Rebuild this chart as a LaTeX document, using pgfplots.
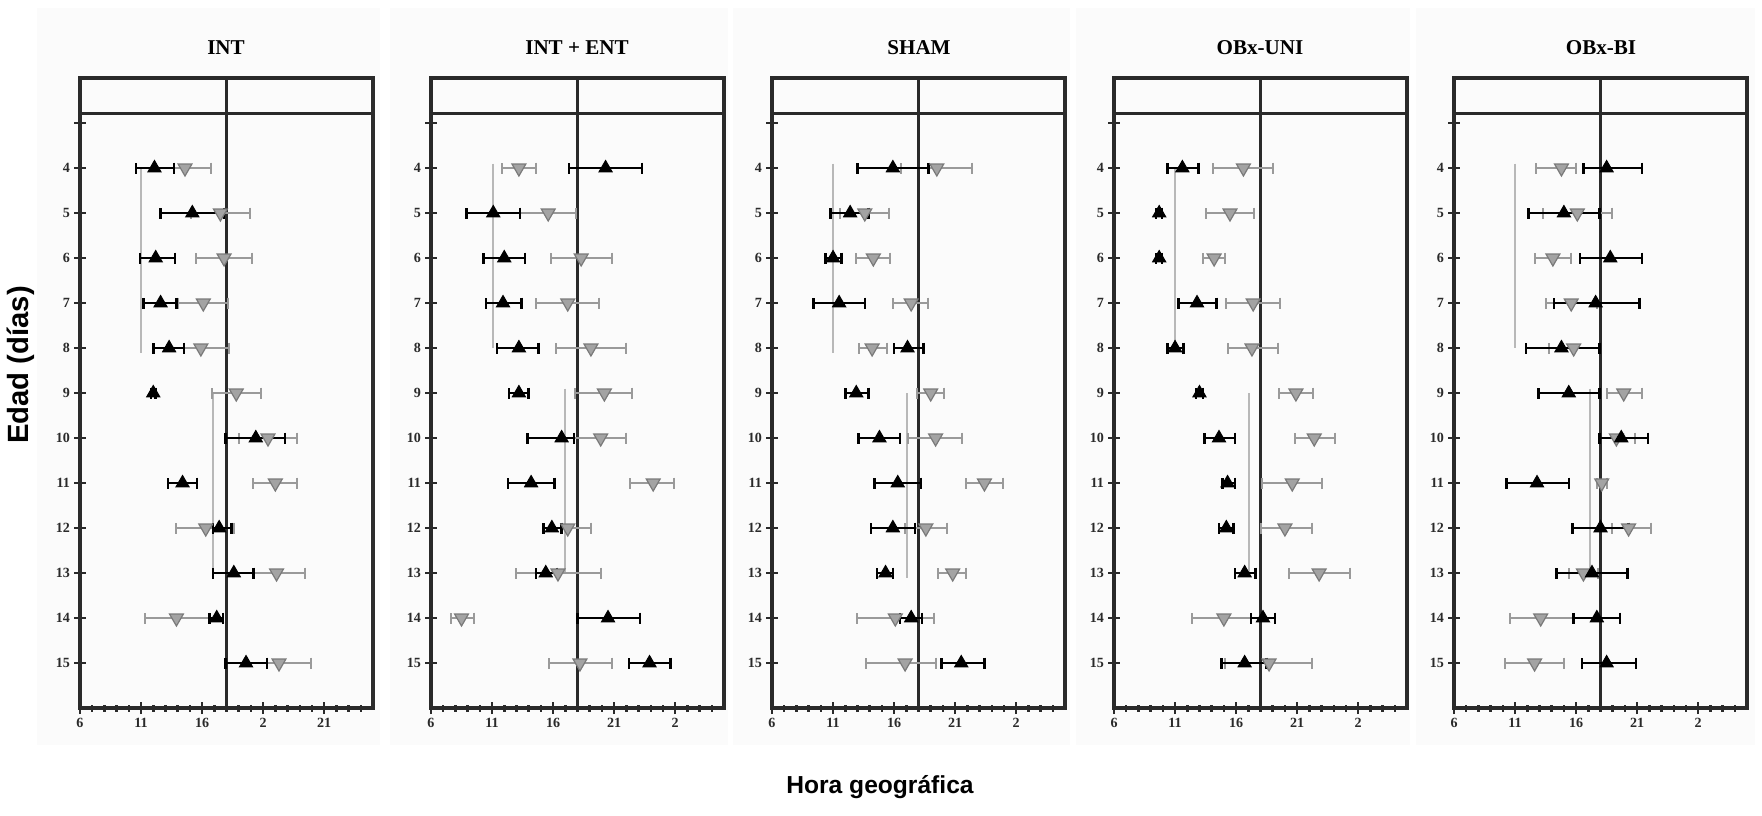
\documentclass[border=0pt]{standalone}
\usepackage{pgfplots}
\pgfplotsset{compat=1.18}
\usepackage{fontspec}
\setmainfont{Liberation Serif}
\newfontfamily\sansb{Liberation Sans}
\newlength\px
\setlength\px{0.3mm}
\definecolor{frame}{HTML}{2A2A2A}
\definecolor{gfill}{HTML}{A3A3A3}
\definecolor{gedge}{HTML}{7A7A7A}
\definecolor{gbar}{HTML}{9A9A9A}
\definecolor{vline}{HTML}{B8B8B8}
\newcommand\tickfont{\fontsize{12}{12}\selectfont\bfseries}
\newcommand\titlefont{\fontsize{18}{18}\selectfont\bfseries}
\pgfplotsset{
  panel/.style={
    scale only axis, width=293\px, height=630\px, anchor=south west,
    xmin=6, xmax=30, ymin=2, ymax=16, y dir=reverse,
    xtick={6,11,16,21,26},
    minor xtick={7,8,9,10,12,13,14,15,17,18,19,20,22,23,24,25,27,28,29},
    ytick={3,...,15}, yticklabels={,4,5,6,7,8,9,10,11,12,13,14,15},
    tick pos=left, tick align=center,
    major tick length=12\px, minor tick length=7\px,
    axis line style={line width=3.2\px, draw=frame},
    every tick/.style={line width=2.5\px, frame},
    tick label style={font=\tickfont, text=frame},
    clip=false,
  },
  blk/.style={only marks, mark=triangle*, mark size=7.5\px, black,
    mark options={fill=black, draw=black, line width=1\px},
    error bars/.cd, x dir=both, x explicit,
    error bar style={line width=2.5\px, black},
    error mark options={black, mark size=5.5\px, line width=2.5\px, rotate=90}},
  gry/.style={only marks, mark=triangle*, mark size=8\px, gedge,
    mark options={rotate=180, fill=gfill, draw=gedge, line width=1.2\px},
    error bars/.cd, x dir=both, x explicit,
    error bar style={line width=2\px, gbar},
    error mark options={gbar, mark size=5.5\px, line width=2\px, rotate=90}},
  vl/.style={line width=2\px, vline, no marks},
}
\newcommand\decor{%
  \draw[line width=3.2\px, frame] (axis cs:18,2) -- (axis cs:18,16);
  \draw[line width=3.2\px, frame] (axis cs:6,2.78) -- (axis cs:30,2.78);
}
\begin{document}
\begin{tikzpicture}
\path (0,0) rectangle (1762\px,-815\px);
\foreach \a/\b in {37/380, 390/728, 733/1070, 1076/1410, 1416/1755}
  \fill[black!1.5] (\a\px,-8\px) rectangle (\b\px,-745\px);

% ---------------- Panel 1: INT
\begin{axis}[panel, at={(80\px,-708\px)}, xticklabels={6,11,16,2,21}]
\decor
\addplot[vl] coordinates {(11.0,4) (11.0,8.1)};
\addplot[vl] coordinates {(16.9,9) (16.9,13)};
\addplot[gry] table[x=x, y=y, x error minus=em, x error plus=ep] {
y x em ep
4 14.6 0.9 2.1
5 17.5 2.4 2.4
6 17.8 2.3 2.3
7 16.1 2.1 2.0
8 15.9 1.4 2.3
9 18.8 2.0 2.0
10 21.4 2.4 2.4
11 22.0 1.8 1.8
12 16.3 2.4 2.3
13 22.1 1.9 2.3
14 13.9 2.6 2.7
15 22.3 1.0 2.6
};
\addplot[blk] table[x=x, y=y, x error minus=em, x error plus=ep] {
y x em ep
4 12.1 1.5 1.6
5 15.2 2.6 2.6
6 12.2 1.3 1.6
7 12.6 1.4 1.3
8 13.3 1.3 1.2
9 12.0 0.2 0.2
10 20.4 2.5 2.4
11 14.4 1.2 1.2
12 17.4 0.5 1.0
13 18.6 1.7 1.6
14 17.2 0.6 0.5
15 19.6 1.7 1.7
};
\end{axis}
\node[font=\titlefont] at (226\px,-48\px) {INT};

% ---------------- Panel 2: INT + ENT
\begin{axis}[panel, at={(431\px,-708\px)}, xticklabels={6,11,16,21,2}]
\decor
\addplot[vl] coordinates {(11.1,3.9) (11.1,8)};
\addplot[vl] coordinates {(17.0,8.9) (17.0,13)};
\addplot[gry] table[x=x, y=y, x error minus=em, x error plus=ep] {
y x em ep
4 13.2 1.4 1.4
5 15.6 2.3 2.3
6 18.3 2.5 2.5
7 17.2 2.6 2.6
8 19.1 2.9 2.9
9 20.2 2.4 2.3
10 19.9 2.2 2.1
11 24.2 1.9 1.7
12 17.2 0.5 1.9
13 16.4 3.4 3.5
14 8.5 0.9 1.0
15 18.2 2.5 2.6
};
\addplot[blk] table[x=x, y=y, x error minus=em, x error plus=ep] {
y x em ep
4 20.3 3.0 3.0
5 11.1 2.2 2.2
6 12.0 1.7 1.7
7 11.9 1.4 1.5
8 13.2 1.8 1.6
9 13.2 0.8 0.8
10 16.7 2.8 1.0
11 14.2 1.9 1.9
12 15.9 0.7 0.8
13 15.4 0.8 0.9
14 20.5 2.5 2.6
15 23.9 1.7 1.7
};
\end{axis}
\node[font=\titlefont] at (577\px,-48\px) {INT + ENT};

% ---------------- Panel 3: SHAM
\begin{axis}[panel, at={(772\px,-708\px)}, xticklabels={6,11,16,21,2}]
\decor
\addplot[vl] coordinates {(11.0,3.9) (11.0,8.1)};
\addplot[vl] coordinates {(17.05,9) (17.05,13.1)};
\addplot[gry] table[x=x, y=y, x error minus=em, x error plus=ep] {
y x em ep
4 19.5 2.9 2.9
5 13.6 2.0 2.0
6 14.3 1.4 1.4
7 17.4 1.5 1.4
8 14.2 1.1 1.2
9 19.0 1.1 1.1
10 19.4 2.3 2.2
11 23.4 1.5 1.5
12 18.6 1.7 1.7
13 20.8 1.2 1.1
14 16.1 3.1 3.2
15 16.9 3.2 2.5
};
\addplot[blk] table[x=x, y=y, x error minus=em, x error plus=ep] {
y x em ep
4 15.9 2.9 2.9
5 12.4 1.6 1.5
6 11.0 0.6 0.7
7 11.5 2.1 2.1
8 17.1 1.1 1.3
9 12.9 0.9 1.0
10 14.8 1.7 1.7
11 16.3 1.9 1.9
12 15.9 1.8 1.8
13 15.3 0.7 0.6
14 17.4 0.9 0.9
15 21.5 1.6 1.9
};
\end{axis}
\node[font=\titlefont] at (919\px,-48\px) {SHAM};

% ---------------- Panel 4: OBx-UNI
\begin{axis}[panel, at={(1114\px,-708\px)}, xticklabels={6,11,16,21,2}]
\decor
\addplot[vl] coordinates {(11.0,4) (11.0,8)};
\addplot[vl] coordinates {(17.05,9) (17.05,13)};
\addplot[gry] table[x=x, y=y, x error minus=em, x error plus=ep] {
y x em ep
4 16.6 2.5 2.4
5 15.5 2.0 2.0
6 14.2 0.9 0.9
7 17.4 2.2 2.2
8 17.3 2.0 2.1
9 20.9 1.4 1.4
10 22.4 1.6 1.7
11 20.6 2.5 2.4
12 20.0 2.0 2.2
13 22.8 2.5 2.5
14 15.0 2.6 2.2
15 18.7 3.6 3.5
};
\addplot[blk] table[x=x, y=y, x error minus=em, x error plus=ep] {
y x em ep
4 11.6 1.2 1.3
5 9.7 0.25 0.25
6 9.7 0.25 0.25
7 12.8 1.5 1.6
8 11.0 0.6 0.7
9 13.0 0.3 0.3
10 14.6 1.2 1.3
11 15.3 0.4 0.6
12 15.2 0.6 0.6
13 16.7 0.8 0.9
14 18.2 1.0 1.0
15 16.7 1.9 1.8
};
\end{axis}
\node[font=\titlefont] at (1260\px,-48\px) {OBx-UNI};

% ---------------- Panel 5: OBx-BI
\begin{axis}[panel, at={(1454\px,-708\px)}, xticklabels={6,11,16,21,2}]
\decor
\addplot[vl] coordinates {(11.0,3.9) (11.0,8.0)};
\addplot[vl] coordinates {(17.1,8.9) (17.1,13.0)};
\addplot[gry] table[x=x, y=y, x error minus=em, x error plus=ep] {
y x em ep
4 14.8 2.1 1.2
5 16.1 2.8 2.8
6 14.1 1.5 1.5
7 15.6 2.1 2.1
8 15.8 2.0 2.1
9 19.9 1.4 1.5
10 19.3 1.4 1.5
11 18.1 0.4 0.4
12 20.3 1.4 1.8
13 16.6 1.2 1.2
14 13.1 2.5 2.7
15 12.6 2.4 2.4
};
\addplot[blk] table[x=x, y=y, x error minus=em, x error plus=ep] {
y x em ep
4 18.5 1.9 2.9
5 15.0 2.9 2.9
6 18.8 2.5 2.6
7 17.6 3.4 3.6
8 14.8 2.9 3.1
9 15.4 2.5 2.5
10 19.7 1.8 2.2
11 12.8 2.5 2.6
12 18.0 2.3 2.3
13 17.3 2.9 2.9
14 17.7 1.9 1.9
15 18.5 2.0 2.4
};
\end{axis}
\node[font=\titlefont] at (1601\px,-48\px) {OBx-BI};

% axis labels
\node[font=\sansb\fontsize{25}{25}\selectfont\bfseries, rotate=90] at (21\px,-365\px) {Edad (días)};
\node[font=\sansb\fontsize{21}{21}\selectfont\bfseries] at (880\px,-787\px) {Hora geográfica};
\end{tikzpicture}
\end{document}
